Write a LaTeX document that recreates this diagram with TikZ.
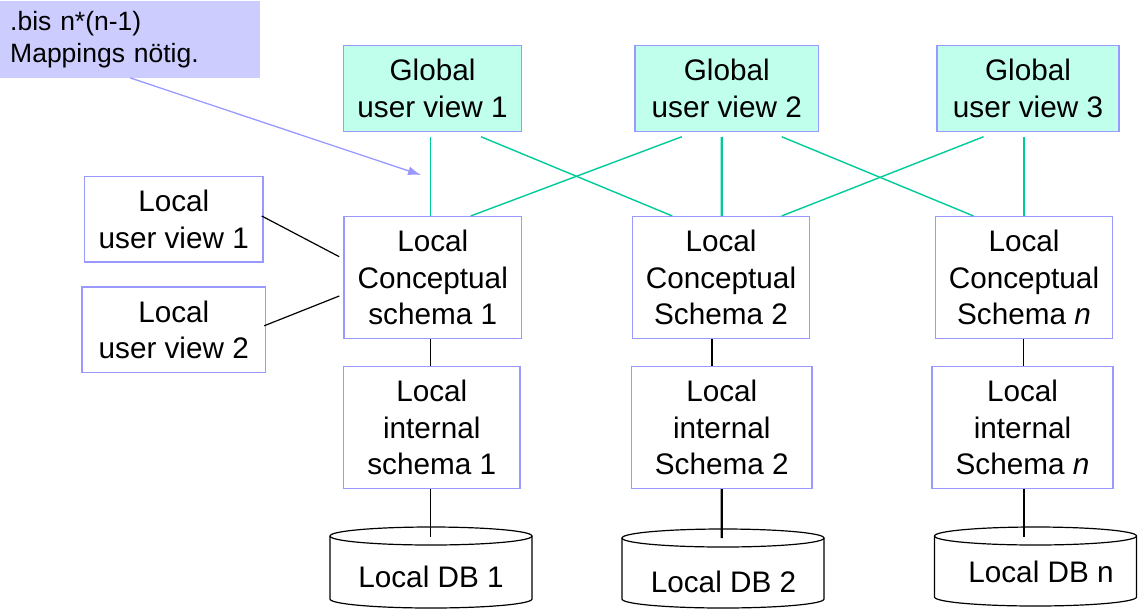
\documentclass[tikz,border=0pt]{standalone}
\usepackage{fontspec}
\setmainfont{Liberation Sans}
\usetikzlibrary{arrows.meta}
\definecolor{bordc}{RGB}{153,153,255}
\definecolor{mintc}{RGB}{192,255,236}
\definecolor{greenc}{RGB}{0,204,153}
\definecolor{callc}{RGB}{204,204,255}
\newcommand\fsbig{\fontsize{29.7}{36.5}\selectfont}
\newcommand\fscall{\fontsize{26.5}{32}\selectfont}
\newcommand\dbcyl[4]{% cx, ellipse-top centre y, ellipse-bottom centre y, label baseline
  \draw[cylline, fill=white] (#1-101,#2) -- (#1-101,#3) arc[start angle=180,end angle=360,x radius=101pt,y radius=9pt] -- (#1+101,#2) arc[start angle=0,end angle=180,x radius=101pt,y radius=9pt] -- cycle;
  \draw[cylline] (#1-101,#2) arc[start angle=180,end angle=360,x radius=101pt,y radius=9pt];
}
\tikzset{
  box/.style={draw=bordc, line width=1.5pt, fill=white, align=center, font=\fsbig, inner sep=0pt},
  gbox/.style={box, fill=mintc},
  gline/.style={draw=greenc, line width=1.4pt},
  gthick/.style={draw=greenc, line width=2.3pt},
  bline/.style={draw=black, line width=1.2pt},
  bthick/.style={draw=black, line width=2.2pt},
  cylline/.style={draw=black, line width=1.2pt},
  dbtext/.style={font=\fsbig, inner sep=0pt, anchor=base},
}
\begin{document}
\begin{tikzpicture}[x=1pt,y=-1pt]
\useasboundingbox (0,0) rectangle (1146,614);

% callout
\node[fill=callc, draw=none, minimum width=260pt, minimum height=77pt, anchor=north west,
      text width=240pt, inner xsep=10pt, inner ysep=0pt, align=left, font=\fscall]
  (call) at (0,0.5) {.bis n*(n-1)\\Mappings nötig.};
\coordinate (tip) at (421,175);
\draw[draw=bordc, line width=1.3pt, -{Latex[length=13pt,width=9pt]}] ([xshift=0pt]call.south) -- (tip);

% global views
\node[gbox, minimum width=178pt, minimum height=86pt] (g1) at (432.5,88.5) {Global\\user view 1};
\node[gbox, minimum width=183.5pt, minimum height=86pt] (g2) at (726.75,88.5) {Global\\user view 2};
\node[gbox, minimum width=182pt, minimum height=86pt] (g3) at (1028,88.5) {Global\\user view 3};

% local user views
\node[box, minimum width=178.5pt, minimum height=85.5pt] (u1) at (173.75,219.25) {Local\\user view 1};
\node[box, minimum width=183.5pt, minimum height=85.5pt] (u2) at (173.75,329.75) {Local\\user view 2};

% conceptual schemas
\node[box, minimum width=177.5pt, minimum height=121.6pt] (c1) at (432.75,277.5) {Local\\Conceptual\\schema 1};
\node[box, minimum width=177pt, minimum height=121.6pt] (c2) at (721,277.5) {Local\\Conceptual\\Schema 2};
\node[box, minimum width=177pt, minimum height=121.6pt] (c3) at (1024,277.5) {Local\\Conceptual\\Schema \textit{n}};

% internal schemas
\node[box, minimum width=176.5pt, minimum height=121.6pt] (i1) at (431.75,427.5) {Local\\internal\\schema 1};
\node[box, minimum width=180.5pt, minimum height=121.6pt] (i2) at (721.75,427.5) {Local\\internal\\Schema 2};
\node[box, minimum width=181pt, minimum height=121.6pt] (i3) at (1022.5,427.5) {Local\\internal\\Schema \textit{n}};

% databases
\dbcyl{431}{536}{599}{}
\dbcyl{723}{538}{599}{}
\dbcyl{1035.5}{536}{597}{}
\node[dbtext] (d1) at (431,587) {Local DB 1};
\node[dbtext] (d2) at (723.5,592) {Local DB 2};
\node[dbtext] (d3) at (1041,582) {Local DB n};
\coordinate (d1top) at (430.5,537);
\coordinate (d2top) at (721.7,538);
\coordinate (d3top) at (1024,537);

% green mappings
\draw[gline] ([xshift=-2pt,yshift=-4.5pt]g1.south) -- ([xshift=-2.25pt]c1.north);
\draw[gline] ([xshift=48.5pt,yshift=-4.5pt]g1.south) -- ([xshift=-48.7pt]c2.north);
\draw[gline] ([xshift=-45pt,yshift=-4.5pt]g2.south) -- ([xshift=38pt]c1.north);
\draw[gthick] ([xshift=-5pt,yshift=-4.5pt]g2.south) -- ([xshift=0.7pt]c2.north);
\draw[gline] ([xshift=55pt,yshift=-4.5pt]g2.south) -- ([xshift=-50.5pt]c3.north);
\draw[gline] ([xshift=-44.5pt,yshift=-4.5pt]g3.south) -- ([xshift=60.7pt]c2.north);
\draw[gline] ([xshift=-4pt,yshift=-4.5pt]g3.south) -- ([xshift=0pt]c3.north);

% local user view links
\draw[bline] ([xshift=-2pt,yshift=3.25pt]u1.east) -- ([xshift=-4pt,yshift=20.8pt]c1.west);
\draw[bline] ([xshift=-2pt,yshift=4pt]u2.east) -- ([xshift=-4pt,yshift=-18.5pt]c1.west);

% vertical links
\draw[bline] ([xshift=-2.25pt]c1.south) -- ([xshift=-1.25pt]i1.north);
\draw[bthick] ([xshift=-9pt]c2.south) -- ([xshift=-9.75pt]i2.north);
\draw[bline] ([xshift=-0.7pt]c3.south) -- ([xshift=0.8pt]i3.north);
\draw[bline] ([xshift=-1.25pt]i1.south) -- (d1top);
\draw[bthick] ([xshift=0pt]i2.south) -- (d2top);
\draw[bline] ([xshift=1.5pt]i3.south) -- (d3top);
\end{tikzpicture}
\end{document}
